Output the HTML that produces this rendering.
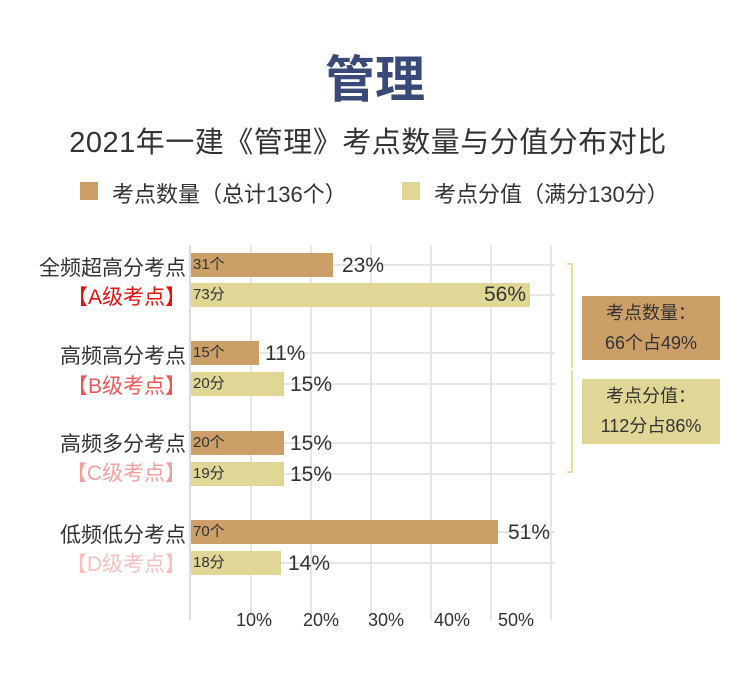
<!DOCTYPE html><html><head><meta charset="utf-8"><style>
body{margin:0;width:750px;height:692px;background:#fff;position:relative;overflow:hidden;font-family:"Liberation Sans","Noto Sans CJK SC",sans-serif;color:#333}
.a{position:absolute;white-space:nowrap}
.b{position:absolute;left:191px;height:24px}
.q{background:#cc9f68}.v{background:#e0d796}
.bt{position:absolute;left:2px;top:3px;font-size:15px;color:#333;line-height:18px}
.pl{font-size:21px;line-height:24px;position:absolute}
.lb{font-size:21px;right:564px;text-align:right;position:absolute;white-space:nowrap}
.gh{position:absolute;left:191px;width:364px;height:2px;background:#e6e6e6}
.gv{position:absolute;top:245px;height:375px;width:2px;background:#e6e6e6}
</style></head><body>
<div class="a" style="left:0;width:750px;text-align:center;top:40px;font-size:50px;font-weight:bold;color:#3a4a78">管理</div>
<div class="a" style="left:0;width:736px;text-align:center;top:119px;font-size:29px;color:#333;letter-spacing:0.5px">2021年一建《管理》考点数量与分值分布对比</div>
<div class="a" style="left:80px;top:182px;width:18px;height:18px;background:#cc9f68"></div>
<div class="a" style="left:112px;top:177px;font-size:22px">考点数量（总计136个）</div>
<div class="a" style="left:402px;top:182px;width:18px;height:18px;background:#e0d796"></div>
<div class="a" style="left:434px;top:177px;font-size:22px">考点分值（满分130分）</div>

<div class="gv" style="left:250px"></div><div class="gv" style="left:310px"></div><div class="gv" style="left:370px"></div><div class="gv" style="left:430px"></div><div class="gv" style="left:490px"></div><div class="gv" style="left:550px"></div>
<div class="gh" style="top:264px"></div><div class="gh" style="top:294px"></div><div class="gh" style="top:352px"></div><div class="gh" style="top:383px"></div><div class="gh" style="top:442px"></div><div class="gh" style="top:473px"></div><div class="gh" style="top:531px"></div><div class="gh" style="top:562px"></div>
<div class="a" style="left:189px;top:245px;width:2px;height:375px;background:#ddd"></div>

<div class="b q" style="top:253px;width:142px"><span class="bt">31个</span></div><div class="pl" style="left:342px;top:254px">23%</div>
<div class="b v" style="top:283px;width:339px"><span class="bt">73分</span><span class="pl" style="right:4px;top:0">56%</span></div>
<div class="b q" style="top:341px;width:68px"><span class="bt">15个</span></div><div class="pl" style="left:265px;top:342px">11%</div>
<div class="b v" style="top:372px;width:93px"><span class="bt">20分</span></div><div class="pl" style="left:290px;top:373px">15%</div>
<div class="b q" style="top:431px;width:93px"><span class="bt">20个</span></div><div class="pl" style="left:290px;top:432px">15%</div>
<div class="b v" style="top:462px;width:93px"><span class="bt">19分</span></div><div class="pl" style="left:290px;top:463px">15%</div>
<div class="b q" style="top:520px;width:307px"><span class="bt">70个</span></div><div class="pl" style="left:508px;top:521px">51%</div>
<div class="b v" style="top:551px;width:90px"><span class="bt">18分</span></div><div class="pl" style="left:288px;top:552px">14%</div>

<div class="lb" style="top:252px">全频超高分考点</div><div class="lb" style="top:281px;color:#e8100f">【A级考点】</div>
<div class="lb" style="top:340px">高频高分考点</div><div class="lb" style="top:370px;color:#f05858">【B级考点】</div>
<div class="lb" style="top:428px">高频多分考点</div><div class="lb" style="top:457px;color:#f5a0a0">【C级考点】</div>
<div class="lb" style="top:519px">低频低分考点</div><div class="lb" style="top:548px;color:#f8c0c0">【D级考点】</div>

<div class="a" style="top:610px;font-size:18px;left:236px">10%</div>
<div class="a" style="top:610px;font-size:18px;left:303px">20%</div>
<div class="a" style="top:610px;font-size:18px;left:368px">30%</div>
<div class="a" style="top:610px;font-size:18px;left:434px">40%</div>
<div class="a" style="top:610px;font-size:18px;left:498px">50%</div>

<div class="a" style="left:567px;top:263px;width:6px;height:105px;border-right:2px solid #e8dca0;border-top:2px solid #e8dca0;box-sizing:border-box"></div>
<div class="a" style="left:567px;top:370px;width:6px;height:103px;border-right:2px solid #e8dca0;border-bottom:2px solid #e8dca0;box-sizing:border-box"></div>
<div class="a" style="left:582px;top:296px;width:138px;height:64px;background:#cc9f68;text-align:center;font-size:18px;line-height:30px;padding-top:2px;box-sizing:border-box">考点数量：<br>66个占49%</div>
<div class="a" style="left:582px;top:379px;width:138px;height:65px;background:#e0d796;text-align:center;font-size:18px;line-height:30px;padding-top:2px;box-sizing:border-box">考点分值：<br>112分占86%</div>
</body></html>
